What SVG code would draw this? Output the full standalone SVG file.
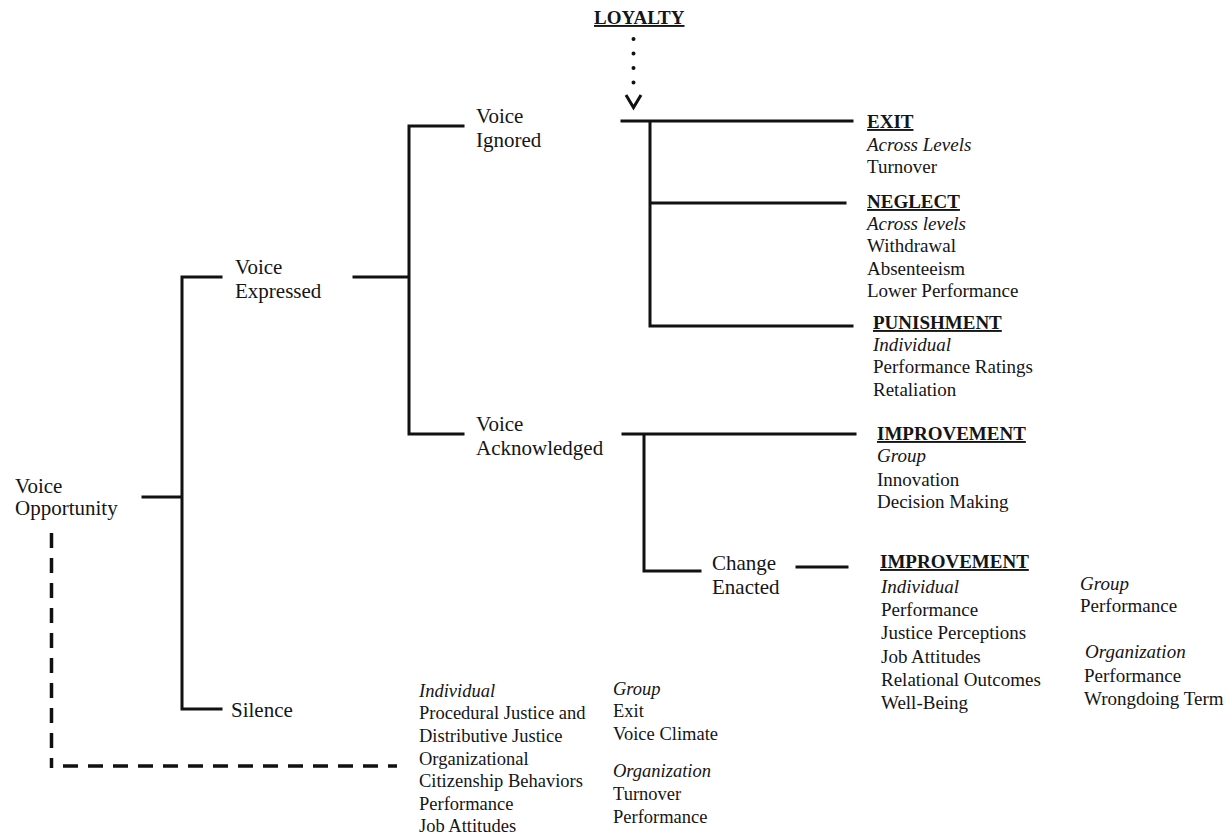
<svg xmlns="http://www.w3.org/2000/svg" width="1232" height="838" viewBox="0 0 1232 838">
<style>
text{font-family:"Liberation Serif","Times New Roman",serif;fill:#151515}
.lbl{font-size:21px}
.out{font-size:19px}
.bot{font-size:18.5px}
.hd{font-weight:bold;text-decoration:underline}
.it{font-style:italic}
.ln{stroke:#111;stroke-width:3;fill:none;stroke-linecap:square}
.dash{stroke:#111;stroke-width:3.5;fill:none;stroke-dasharray:15 10}
</style>
<defs>
<marker id="chev" markerUnits="userSpaceOnUse" viewBox="-5 -10 20 20" markerWidth="20" markerHeight="20" refX="0" refY="0" orient="auto">
<path d="M-2,-7.5 L10.5,0 L-2,7.5" fill="none" stroke="#111" stroke-width="3"/>
</marker>
</defs>
<rect width="1232" height="838" fill="#fff"/>
<g id="connectors">
<path class="ln" d="M143,497 H182 M182,277 V709 M182,277 H221 M182,709 H221"/>
<path class="ln" d="M354,277 H409 M409,126 V434 M409,126 H463 M409,434 H463"/>
<path class="ln" d="M622,121 H852 M650,121 V326 M650,203 H845 M650,326 H852"/>
<path class="ln" d="M623,434 H855 M644,434 V571 M644,571 H700"/>
<path class="ln" d="M797,567 H847"/>
<path class="dash" d="M51.5,533 V768"/>
<path class="dash" d="M63,766 H397"/>
<path d="M633.5,39 V97" fill="none" stroke="#111" stroke-width="4" stroke-linecap="round" stroke-dasharray="0 14.5" marker-end="url(#chev)"/>
</g>
<g id="loyalty"><text class="out hd" x="594" y="24">LOYALTY</text></g>
<g id="voice-opportunity"><text class="lbl" x="15" y="493">Voice</text><text class="lbl" x="15" y="515">Opportunity</text></g>
<g id="voice-expressed"><text class="lbl" x="235" y="274">Voice</text><text class="lbl" x="235" y="298">Expressed</text></g>
<g id="silence"><text class="lbl" x="231" y="717">Silence</text></g>
<g id="voice-ignored"><text class="lbl" x="476" y="123">Voice</text><text class="lbl" x="476" y="147">Ignored</text></g>
<g id="voice-acknowledged"><text class="lbl" x="476" y="431">Voice</text><text class="lbl" x="476" y="455">Acknowledged</text></g>
<g id="change-enacted"><text class="lbl" x="712" y="570">Change</text><text class="lbl" x="712" y="594">Enacted</text></g>
<g id="exit">
<text class="out hd" x="867" y="128">EXIT</text>
<text class="out it" x="867" y="151">Across Levels</text>
<text class="out" x="867" y="173">Turnover</text>
</g>
<g id="neglect">
<text class="out hd" x="867" y="208">NEGLECT</text>
<text class="out it" x="867" y="230">Across levels</text>
<text class="out" x="867" y="252">Withdrawal</text>
<text class="out" x="867" y="275">Absenteeism</text>
<text class="out" x="867" y="297">Lower Performance</text>
</g>
<g id="punishment">
<text class="out hd" x="873" y="329">PUNISHMENT</text>
<text class="out it" x="873" y="351">Individual</text>
<text class="out" x="873" y="373">Performance Ratings</text>
<text class="out" x="873" y="396">Retaliation</text>
</g>
<g id="improvement-group">
<text class="out hd" x="877" y="440">IMPROVEMENT</text>
<text class="out it" x="877" y="462">Group</text>
<text class="out" x="877" y="486">Innovation</text>
<text class="out" x="877" y="508">Decision Making</text>
</g>
<g id="improvement-change">
<text class="out hd" x="880" y="568">IMPROVEMENT</text>
<text class="out it" x="881" y="593">Individual</text>
<text class="out" x="881" y="616">Performance</text>
<text class="out" x="881" y="639">Justice Perceptions</text>
<text class="out" x="881" y="663">Job Attitudes</text>
<text class="out" x="881" y="686">Relational Outcomes</text>
<text class="out" x="881" y="709">Well-Being</text>
<text class="out it" x="1080" y="590">Group</text>
<text class="out" x="1080" y="612">Performance</text>
<text class="out it" x="1085" y="658">Organization</text>
<text class="out" x="1084" y="682">Performance</text>
<text class="out" x="1084" y="705">Wrongdoing Term</text>
</g>
<g id="silence-outcomes">
<text class="bot it" x="419" y="697">Individual</text>
<text class="bot" x="419" y="719">Procedural Justice and</text>
<text class="bot" x="419" y="742">Distributive Justice</text>
<text class="bot" x="419" y="765">Organizational</text>
<text class="bot" x="419" y="787">Citizenship Behaviors</text>
<text class="bot" x="419" y="810">Performance</text>
<text class="bot" x="419" y="832">Job Attitudes</text>
<text class="bot it" x="613" y="695">Group</text>
<text class="bot" x="613" y="717">Exit</text>
<text class="bot" x="613" y="740">Voice Climate</text>
<text class="bot it" x="613" y="777">Organization</text>
<text class="bot" x="613" y="800">Turnover</text>
<text class="bot" x="613" y="823">Performance</text>
</g>
</svg>
